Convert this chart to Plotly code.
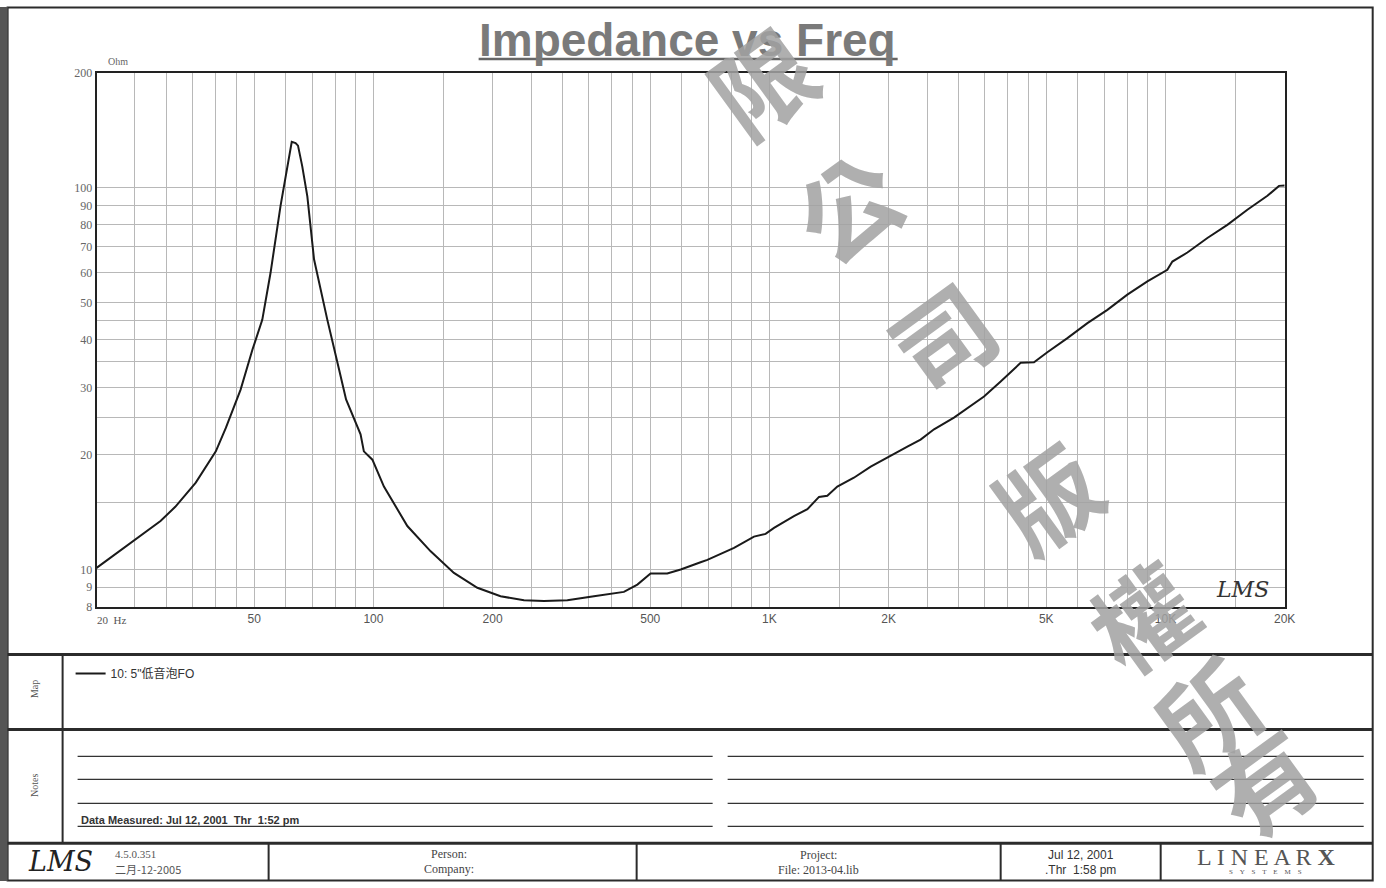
import plotly.graph_objects as go

# ---------------- data ----------------
freq_hz = [20, 21.7, 25.8, 29.0, 31.6, 35.6, 40.0, 42.4, 46.2, 49.5, 52.4, 55.0, 58.3, 60.6,
           62.2, 63.6, 64.5, 66.1, 68.1, 70.8, 76.5, 81.7, 85.3, 92.8, 94.6, 99.4, 106.3,
           121.8, 139.5, 159.7, 183, 209.4, 240, 269.6, 308.8, 360.4, 429, 464, 501, 552,
           597, 670, 697, 814, 914, 978, 1027, 1153, 1247, 1334, 1400, 1484, 1634, 1802,
           1985, 2230, 2408, 2604, 2924, 3160, 3482, 3836, 4309, 4656, 5032, 5654, 6352,
           7134, 8012, 9002, 9914, 10110, 10410, 11360, 12760, 14330, 16100, 18090, 19350,
           20000]
impedance_ohm = [10.1, 10.75, 12.3, 13.4, 14.6, 16.9, 20.4, 23.5, 29.6, 37.7, 45.1, 60.0,
                 90.0, 114, 132, 131, 129, 114, 95, 65, 45.1, 33.8, 27.9, 22.6, 20.4, 19.4,
                 16.5, 13.0, 11.16, 9.80, 8.96, 8.51, 8.31, 8.27, 8.31, 8.51, 8.74, 9.13,
                 9.76, 9.76, 10.0, 10.45, 10.6, 11.4, 12.2, 12.4, 12.86, 13.8, 14.4, 15.5,
                 15.6, 16.5, 17.4, 18.6, 19.7, 21.0, 21.9, 23.3, 25.0, 26.5, 28.4, 31.1,
                 34.8, 34.9, 37.1, 40.4, 44.2, 47.9, 52.5, 56.9, 60.4, 61.0, 64.1, 67.7,
                 73.9, 80.0, 87.6, 95.3, 101.2, 101.4]
series_name = '10: 5"低音泡FO'

x_grid_vals = [20, 25, 30, 35, 40, 45, 50, 60, 70, 80, 90,
               100, 150, 200, 250, 300, 350, 400, 450, 500, 600, 700, 800, 900,
               1000, 1500, 2000, 2500, 3000, 3500, 4000, 4500, 5000, 6000, 7000, 8000, 9000,
               10000, 15000, 20000]
x_labels = {20: "", 50: "50", 100: "100", 200: "200", 500: "500", 1000: "1K",
            2000: "2K", 5000: "5K", 10000: "10K", 20000: "20K"}
y_grid_vals = [8, 9, 10, 15, 20, 25, 30, 35, 40, 45, 50, 60, 70, 80, 90, 100, 200]
y_labels = {8: "8", 9: "9", 10: "10", 20: "20", 30: "30", 40: "40", 50: "50", 60: "60",
            70: "70", 80: "80", 90: "90", 100: "100", 200: "200"}

title_text = "Impedance vs Freq"
watermark_chars = ["限", "公", "司", "版", "權", "所", "有"]

# ---------------- layout helpers ----------------
W, H = 1386, 888
SX, BX = 0.992, -0.6   # measured render transform (observed = S*fig + B)
SY, BY = 0.985, 7.0


def fx(x):
    return min(max((x - BX) / SX, 0.5), W - 0.5)


def fy(y):
    return min(max((y - BY) / SY, 0.5), H - 0.5)


def px(x):
    return fx(x) / W


def py(y):
    return 1 - fy(y) / H


fig = go.Figure()
fig.add_trace(go.Scatter(
    x=freq_hz, y=impedance_ohm, mode="lines", name=series_name,
    line=dict(color="#1a1a1a", width=2), showlegend=True))

grid_color = "#b8b8b8"
fig.update_xaxes(
    type="log", range=[1.30103, 4.30103], domain=[px(96), px(1284)],
    tickvals=x_grid_vals, ticktext=[x_labels.get(v, "") for v in x_grid_vals],
    showgrid=True, gridcolor=grid_color, gridwidth=1, ticks="",
    showline=True, linecolor="#222", linewidth=2, mirror=True, zeroline=False,
    tickfont=dict(family="Liberation Sans", size=12, color="#555"))
fig.update_yaxes(
    type="log", range=[0.90309, 2.30103], domain=[py(607), py(73)],
    tickvals=y_grid_vals, ticktext=[y_labels.get(v, "") for v in y_grid_vals],
    showgrid=True, gridcolor=grid_color, gridwidth=1, ticks="",
    showline=True, linecolor="#222", linewidth=2, mirror=True, zeroline=False,
    tickfont=dict(family="Liberation Serif", size=12, color="#666"))

shapes = []
dark = "#2b2b2b"
# outer frame
shapes.append(dict(type="rect", xref="paper", yref="paper", x0=px(7), x1=px(1372),
                   y0=py(886), y1=py(5), line=dict(color=dark, width=2)))
# left dark scan edge
shapes.append(dict(type="rect", xref="paper", yref="paper", x0=0, x1=px(7),
                   y0=0, y1=1, fillcolor="#555", line=dict(width=0)))
# section separators
for yy in (655, 730, 844):
    shapes.append(dict(type="line", xref="paper", yref="paper", x0=px(7), x1=px(1372),
                       y0=py(yy), y1=py(yy), line=dict(color=dark, width=3)))
# label column
shapes.append(dict(type="line", xref="paper", yref="paper", x0=px(62), x1=px(62),
                   y0=py(655), y1=py(844), line=dict(color=dark, width=2)))
# notes lines
for yy in (757, 780, 804, 827):
    shapes.append(dict(type="line", xref="paper", yref="paper", x0=px(77), x1=px(712),
                       y0=py(yy), y1=py(yy), line=dict(color="#333", width=1.2)))
    shapes.append(dict(type="line", xref="paper", yref="paper", x0=px(727), x1=px(1363),
                       y0=py(yy), y1=py(yy), line=dict(color="#333", width=1.2)))
# footer cells
for xx in (268, 636, 1000, 1160):
    shapes.append(dict(type="line", xref="paper", yref="paper", x0=px(xx), x1=px(xx),
                       y0=py(886), y1=py(844), line=dict(color=dark, width=2)))
# title underline
shapes.append(dict(type="line", xref="paper", yref="paper", x0=px(478), x1=px(897),
                   y0=py(59), y1=py(59), line=dict(color="#666", width=2.5)))

ann = []


def text(x, y, s, size=12, color="#444", family="Liberation Sans", xanchor="center",
         yanchor="middle", angle=0, opacity=1.0):
    ann.append(dict(x=px(x), y=py(y), xref="paper", yref="paper", text=s, showarrow=False,
                    font=dict(size=size, color=color, family=family), xanchor=xanchor,
                    yanchor=yanchor, textangle=angle, opacity=opacity))


text(687, 40, "<b>" + title_text + "</b>", size=46, color="#7a7a7a")
text(117, 62, "Ohm", size=10, color="#666", family="Liberation Serif")
text(94, 620, "20  Hz", size=11, color="#555", family="Liberation Serif", xanchor="left")
text(1242, 590, "<i>LMS</i>", size=22, color="#333", family="DejaVu Serif")
text(34, 690, "Map", size=10, color="#555", family="Liberation Serif", angle=-90)
text(34, 786, "Notes", size=10, color="#555", family="Liberation Serif", angle=-90)
text(78, 821, "<b>Data Measured: Jul 12, 2001  Thr  1:52 pm</b>", size=11, color="#333",
     family="Liberation Sans", xanchor="left")
# footer
text(60, 862, "<i>LMS</i>", size=27, color="#222", family="DejaVu Serif")
text(112, 855, "4.5.0.351", size=11, color="#555", family="Liberation Serif", xanchor="left")
text(112, 870, "二月-12-2005", size=11, color="#555", family="Noto Sans CJK SC", xanchor="left")
text(448, 855, "Person:", size=12, color="#444", family="Liberation Serif")
text(448, 870, "Company:", size=12, color="#444", family="Liberation Serif")
text(818, 856, "Project:", size=12, color="#444", family="Liberation Serif")
text(818, 871, "File: 2013-04.lib", size=12, color="#444", family="Liberation Serif")
text(1080, 856, "Jul 12, 2001", size=12, color="#333", family="Liberation Sans")
text(1080, 871, ".Thr  1:58 pm", size=12, color="#333", family="Liberation Sans")
text(1265, 858, "L I N E A R <b>X</b>", size=24, color="#555", family="Liberation Serif")
text(1265, 873, "S    Y    S    T    E    M    S", size=7, color="#555", family="Liberation Serif")

# watermark (kept inside the page)
wm_pos = [(760, 80), (845, 205), (940, 335), (1045, 495), (1140, 615), (1205, 710), (1262, 780)]
for ch, (wx, wy) in zip(watermark_chars, wm_pos):
    text(wx, wy, "<b>" + ch + "</b>", size=100, color="#a2a2a2", family="Noto Sans CJK TC",
         angle=-36, opacity=0.85)

fig.update_layout(
    width=W, height=H, autosize=False,
    margin=dict(l=0, r=0, t=0, b=0, pad=0),
    paper_bgcolor="white", plot_bgcolor="white",
    shapes=shapes, annotations=ann,
    legend=dict(x=px(70), y=py(674), xanchor="left", yanchor="middle",
                bgcolor="rgba(0,0,0,0)", font=dict(family="Liberation Sans, Noto Sans CJK SC",
                                                   size=12, color="#333"),
                itemwidth=30, tracegroupgap=0),
    font=dict(family="Liberation Sans"),
)

fig.write_html(
    "out.html",
    config={"displayModeBar": False},
    post_script="document.body.style.margin='0';document.body.style.overflow='hidden';"
                "document.documentElement.style.overflow='hidden';")
